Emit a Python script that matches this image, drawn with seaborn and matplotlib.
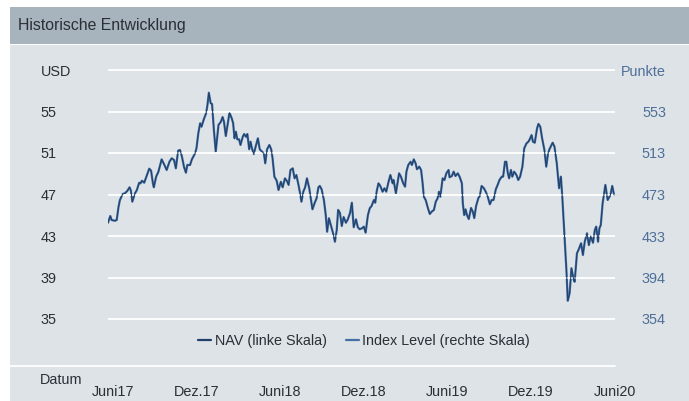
import numpy as np
import pandas as pd
import matplotlib
matplotlib.use("Agg")
import matplotlib.pyplot as plt
from matplotlib.patches import Rectangle
from matplotlib.lines import Line2D
import seaborn as sns

# ---------------------------------------------------------------- data
start_date = "2017-06-01"

# days since start_date for each observation
day_offsets = [
    -10, -5, -2, 5, 9, 13, 16, 22, 27, 32, 37, 40, 43, 49, 53, 58, 61, 64, 69, 75,
    80, 84, 88, 90, 95, 100, 107, 112, 118, 124, 129, 134, 138, 143, 147, 151, 156, 160, 163, 169,
    173, 180, 183, 187, 191, 194, 199, 204, 207, 210, 214, 217, 221, 225, 231, 236, 240, 243, 247, 252,
    255, 260, 263, 266, 269, 272, 276, 279, 284, 287, 291, 294, 298, 301, 304, 308, 313, 317, 321, 326,
    330, 333, 337, 342, 346, 349, 353, 358, 362, 367, 371, 376, 380, 384, 388, 393, 397, 401, 406, 409,
    412, 416, 420, 424, 429, 433, 436, 441, 445, 449, 452, 456, 461, 465, 468, 472, 477, 481, 485, 489,
    492, 496, 500, 504, 509, 513, 518, 522, 526, 531, 535, 539, 544, 548, 552, 557, 561, 565, 570, 573,
    576, 580, 584, 589, 593, 597, 602, 606, 611, 613, 618, 621, 625, 629, 634, 638, 641, 645, 650, 653,
    657, 661, 664, 669, 673, 676, 679, 683, 688, 692, 696, 701, 705, 709, 712, 715, 720, 724, 728, 733,
    735, 740, 744, 748, 753, 757, 762, 764, 767, 770, 773, 777, 782, 786, 789, 793, 798, 801, 805, 810,
    814, 818, 823, 827, 831, 836, 840, 844, 849, 852, 856, 859, 862, 865, 869, 872, 876, 881, 885, 889,
    894, 898, 903, 907, 910, 914, 917, 921, 926, 929, 933, 937, 942, 946, 950, 953, 960, 964, 969, 974,
    978, 981, 986, 990, 993, 997, 1001, 1006, 1008, 1013, 1017, 1022, 1026, 1030, 1035, 1039, 1043, 1048, 1052, 1055,
    1059, 1062, 1065, 1069, 1075, 1080, 1086, 1090, 1094,
]

# NAV in USD (left scale)
nav_usd = [
    44.28, 44.93, 44.54, 44.47, 44.54, 45.82, 46.47, 47.05, 47.12, 47.34, 47.69, 47.37, 46.31, 47.12, 47.43, 48.14, 48.08, 48.33, 48.14, 48.88,
    49.49, 49.29, 48.08, 47.69, 48.72, 49.20, 50.39, 49.94, 49.36, 50.16, 50.49, 50.33, 49.52, 51.22, 51.29, 50.71, 49.62, 49.10, 49.84, 49.84,
    50.39, 50.97, 51.45, 52.90, 53.86, 53.53, 54.25, 54.83, 55.63, 56.81, 55.79, 55.72, 53.22, 51.13, 53.70, 53.99, 54.47, 54.02, 52.64, 54.02,
    54.88, 54.34, 53.86, 52.42, 53.05, 52.32, 52.32, 51.77, 52.57, 52.83, 52.57, 52.83, 51.36, 52.09, 51.45, 50.90, 51.77, 52.42, 51.36, 51.13,
    50.97, 50.01, 51.36, 51.77, 51.36, 50.49, 48.72, 48.33, 47.43, 48.23, 47.69, 48.56, 48.33, 47.92, 49.36, 49.52, 48.56, 48.88, 47.82, 47.12,
    46.31, 47.27, 47.69, 48.56, 47.60, 46.47, 45.57, 46.21, 46.63, 47.69, 47.82, 47.50, 46.47, 45.02, 43.41, 44.71, 43.90, 43.26, 42.45, 43.58,
    45.51, 45.22, 43.96, 44.83, 44.28, 44.59, 45.22, 46.21, 43.84, 44.61, 43.84, 43.65, 43.74, 43.90, 43.32, 45.02, 45.67, 45.89, 46.47, 46.21,
    47.27, 48.08, 47.82, 47.27, 47.60, 47.27, 48.23, 48.88, 48.08, 48.40, 47.12, 47.92, 49.04, 48.72, 48.08, 47.75, 49.20, 49.84, 50.16, 49.84,
    50.39, 50.01, 49.43, 49.68, 49.36, 48.23, 46.79, 46.47, 45.67, 45.12, 45.34, 45.51, 46.31, 46.63, 47.27, 46.79, 48.56, 48.40, 49.04, 49.36,
    48.66, 48.78, 49.20, 48.78, 49.04, 48.72, 48.08, 46.15, 45.02, 45.57, 45.02, 44.64, 45.70, 45.31, 44.73, 45.89, 46.66, 46.85, 47.82, 47.60,
    47.27, 46.85, 46.06, 46.47, 46.47, 47.50, 47.92, 48.40, 48.72, 48.72, 50.16, 50.16, 49.10, 48.56, 49.36, 48.72, 49.20, 48.88, 48.40, 48.72,
    49.68, 51.45, 51.93, 52.09, 52.32, 52.73, 52.09, 51.99, 53.38, 53.80, 53.53, 52.42, 51.29, 49.68, 50.97, 51.36, 51.99, 51.61, 50.01, 47.60,
    48.72, 46.79, 42.93, 39.72, 36.76, 37.48, 39.89, 38.76, 38.59, 41.33, 41.72, 42.30, 41.17, 42.45, 43.26, 42.13, 43.00, 42.35, 43.58, 43.90,
    42.45, 43.74, 44.06, 46.15, 47.92, 46.47, 46.95, 47.82, 46.95,
]

# Index level in points (right scale)
index_points = [
    446.3, 452.8, 448.9, 448.2, 448.9, 461.7, 468.1, 473.9, 474.6, 476.8, 480.3, 477.1, 466.5, 474.6, 477.7, 484.7, 484.1, 486.6, 484.7, 492.1,
    498.2, 496.2, 484.1, 480.3, 490.5, 495.3, 507.1, 502.7, 496.9, 504.8, 508.1, 506.5, 498.5, 515.4, 516.1, 510.3, 499.5, 494.3, 501.7, 501.7,
    507.1, 512.9, 517.7, 532.1, 541.7, 538.4, 545.5, 551.3, 559.3, 571.0, 560.9, 560.2, 535.3, 514.5, 540.1, 543.0, 547.7, 543.2, 529.5, 543.2,
    551.8, 546.4, 541.7, 527.3, 533.6, 526.3, 526.3, 520.9, 528.8, 531.4, 528.8, 531.4, 516.8, 524.0, 517.7, 512.2, 520.9, 527.3, 516.8, 514.5,
    512.9, 503.3, 516.8, 520.9, 516.8, 508.1, 490.5, 486.6, 477.7, 485.6, 480.3, 488.9, 486.6, 482.6, 496.9, 498.5, 488.9, 492.1, 481.6, 474.6,
    466.5, 476.1, 480.3, 488.9, 479.4, 468.1, 459.2, 465.5, 469.7, 480.3, 481.6, 478.4, 468.1, 453.7, 437.7, 450.6, 442.6, 436.2, 428.1, 439.4,
    458.6, 455.7, 443.2, 451.8, 446.3, 449.4, 455.7, 465.5, 442.0, 449.6, 442.0, 440.1, 441.0, 442.6, 436.8, 453.7, 460.2, 462.4, 468.1, 465.5,
    476.1, 484.1, 481.6, 476.1, 479.4, 476.1, 485.6, 492.1, 484.1, 487.3, 474.6, 482.6, 493.7, 490.5, 484.1, 480.9, 495.3, 501.7, 504.8, 501.7,
    507.1, 503.3, 497.6, 500.1, 496.9, 485.6, 471.3, 468.1, 460.2, 454.7, 456.9, 458.6, 466.5, 469.7, 476.1, 471.3, 488.9, 487.3, 493.7, 496.9,
    489.9, 491.1, 495.3, 491.1, 493.7, 490.5, 484.1, 464.9, 453.7, 459.2, 453.7, 449.9, 460.5, 456.6, 450.8, 462.4, 470.0, 471.9, 481.6, 479.4,
    476.1, 471.9, 464.0, 468.1, 468.1, 478.4, 482.6, 487.3, 490.5, 490.5, 504.8, 504.8, 494.3, 488.9, 496.9, 490.5, 495.3, 492.1, 487.3, 490.5,
    500.1, 517.7, 522.5, 524.0, 526.3, 530.4, 524.0, 523.1, 536.9, 541.1, 538.4, 527.3, 516.1, 500.1, 512.9, 516.8, 523.1, 519.3, 503.3, 479.4,
    490.5, 471.3, 432.9, 401.0, 371.5, 378.7, 402.7, 391.4, 389.7, 417.0, 420.9, 426.6, 415.4, 428.1, 436.2, 424.9, 433.6, 427.1, 439.4, 442.6,
    428.1, 441.0, 444.1, 464.9, 482.6, 468.1, 472.9, 481.6, 472.9,
]

tick_dates = ["2017-06-01", "2017-12-01", "2018-06-01", "2018-12-01",
              "2019-06-01", "2019-12-01", "2020-06-01"]
tick_labels = ["Juni17", "Dez.17", "Juni18", "Dez.18", "Juni19", "Dez.19", "Juni20"]
left_ticks = [35, 39, 43, 47, 51, 55]
right_ticks = [354, 394, 433, 473, 513, 553]
legend_labels = ["NAV (linke Skala)", "Index Level (rechte Skala)"]

df = pd.DataFrame({
    "Datum": pd.Timestamp(start_date) + pd.to_timedelta(day_offsets, unit="D"),
    "NAV": nav_usd,
    "Index": index_points,
})

# ---------------------------------------------------------------- style
sns.set_style("white")
plt.rcParams["font.family"] = ["Liberation Sans", "DejaVu Sans"]

W, H = 689, 401
fig = plt.figure(figsize=(W / 100, H / 100), dpi=100)
fig.patch.set_facecolor("white")

panel_bg = "#dde3e7"
title_bg = "#a7b3bd"
nav_color = "#203f69"
idx_color = "#4570a3"
text_dark = "#2b2f36"
text_blue = "#4f6f98"

def fx(px):
    return px / W

def fy(py):
    return 1 - py / H

# title bar and chart panel
fig.add_artist(Rectangle((fx(10), fy(44)), fx(W - 10), (44 - 7) / H,
                         transform=fig.transFigure, facecolor=title_bg,
                         edgecolor="none", zorder=0))
fig.add_artist(Rectangle((fx(10), 0), fx(W - 10), fy(45),
                         transform=fig.transFigure, facecolor=panel_bg,
                         edgecolor="none", zorder=0))
fig.text(fx(18), fy(25.5), "Historische Entwicklung", fontsize=11.4,
         color=text_dark, ha="left", va="center")

# axes geometry: 4 USD per 41.5 px
px_per_unit = 249 / 24.0
y_top_val = 59.3
y_bot_val = 59 - (366 - 70) / px_per_unit
top_px = 70 - (y_top_val - 59) * px_per_unit
ax = fig.add_axes([fx(108), fy(366), fx(615 - 108), (366 - top_px) / H])
ax2 = ax.twinx()

def to_right(v):
    return right_ticks[0] + (v - left_ticks[0]) * (right_ticks[-1] - right_ticks[0]) / (left_ticks[-1] - left_ticks[0])

# index level (lighter, underneath) and NAV (darker, on top)
sns.lineplot(data=df, x="Datum", y="Index", ax=ax2, color=idx_color,
             linewidth=1.6, legend=False)
sns.lineplot(data=df, x="Datum", y="NAV", ax=ax, color=nav_color,
             linewidth=0.75, legend=False)
ax.set_zorder(ax2.get_zorder() + 1)
ax.patch.set_visible(False)
ax2.patch.set_visible(False)

x0 = pd.Timestamp(start_date) + pd.Timedelta(days=-10)
x1 = pd.Timestamp(start_date) + pd.Timedelta(days=1094)
ax.set_xlim(x0, x1)
ax.set_ylim(y_bot_val, y_top_val)
ax2.set_ylim(to_right(y_bot_val), to_right(y_top_val))

# left scale with unit label on top row
ax.set_yticks(left_ticks + [59])
ax.set_yticklabels([str(t) for t in left_ticks] + ["USD"])
ax.tick_params(axis="y", length=0, pad=(108 - 40.5) * 0.72,
               labelsize=10.4, labelcolor=text_dark)
for lab in ax.get_yticklabels():
    lab.set_horizontalalignment("left")

# right scale
ax2.set_yticks([to_right(v) for v in left_ticks] + [to_right(59)])
ax2.set_yticklabels([str(t) for t in right_ticks] + ["Punkte"])
ax2.tick_params(axis="y", length=0, pad=(666 - 615) * 0.72,
                labelsize=10.4, labelcolor=text_blue)
for lab in ax2.get_yticklabels():
    lab.set_horizontalalignment("right")

ax.grid(axis="y", color="white", linewidth=1.3)
ax.grid(axis="x", visible=False)
ax2.grid(False)
for a in (ax, ax2):
    for s in a.spines.values():
        s.set_visible(False)
    a.set_xlabel("")
    a.set_ylabel("")

ax.set_xticks(pd.to_datetime(tick_dates))
ax.set_xticklabels(tick_labels)
ax.tick_params(axis="x", direction="out", length=8, width=1.2, color="white",
               pad=6, labelsize=10.4, labelcolor=text_dark)
ax2.tick_params(axis="x", length=0)

# baseline running under the date labels
fig.add_artist(Line2D([fx(10), fx(615)], [fy(366), fy(366)],
                      transform=fig.transFigure, color="white", linewidth=1.3))
fig.text(fx(40), fy(380), "Datum", fontsize=10.4, color=text_dark,
         ha="left", va="center")

handles = [Line2D([], [], color=nav_color, linewidth=1.6),
           Line2D([], [], color=idx_color, linewidth=1.6)]
leg = fig.legend(handles, legend_labels, loc="center",
                 bbox_to_anchor=(fx(364), fy(341)), ncol=2, frameon=False,
                 handlelength=0.9, handletextpad=0.25, columnspacing=1.3,
                 fontsize=10.4)
for t in leg.get_texts():
    t.set_color(text_dark)

fig.savefig("out.png", dpi=100, facecolor="white")
